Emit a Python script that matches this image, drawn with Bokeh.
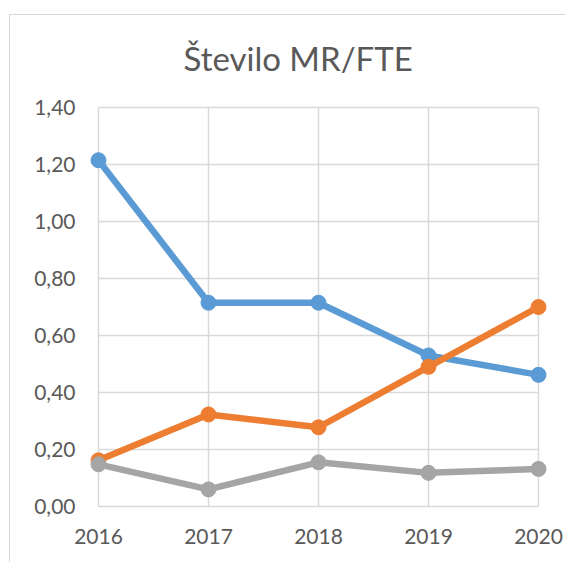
from bokeh.plotting import figure
from bokeh.models import Range1d, FixedTicker, CustomJSTickFormatter
from bokeh.embed import file_html
from bokeh.resources import INLINE

# ---- data ----
years = [2016, 2017, 2018, 2019, 2020]
series_blue = [1.215, 0.715, 0.715, 0.53, 0.462]
series_orange = [0.162, 0.323, 0.278, 0.49, 0.70]
series_gray = [0.148, 0.060, 0.155, 0.118, 0.132]
y_ticks = [0.0, 0.2, 0.4, 0.6, 0.8, 1.0, 1.2, 1.4]
title_text = "Število MR/FTE"

FONT = "Lato"
TXT = "#595959"
GRID = "#D9D9D9"

xpad = 10 / 110
ypad = 10 / 285
p = figure(width=556, height=548, output_backend="svg", toolbar_location=None,
           x_range=Range1d(years[0] - xpad, years[-1] + xpad),
           y_range=Range1d(y_ticks[0] - ypad, y_ticks[-1] + ypad),
           min_border_left=78, min_border_right=18, min_border_top=82, min_border_bottom=47,
           title=title_text)
p.styles = {"margin-left": "9px", "margin-top": "14px",
            "border-left": "1px solid #D9D9D9", "border-top": "1px solid #D9D9D9"}
p.outline_line_color = None
p.background_fill_color = "white"
p.border_fill_color = "white"
p.xgrid.visible = False
p.ygrid.visible = False

p.title.align = "left"
p.title.offset = 95
p.title.standoff = 40
p.title.text_font = FONT
p.title.text_font_size = "33px"
p.title.text_font_style = "normal"
p.title.text_color = TXT

# grid lines from tick lists
p.segment(x0=years, y0=[y_ticks[0]] * len(years), x1=years, y1=[y_ticks[-1]] * len(years),
          line_color=GRID, line_width=1.5)
p.segment(x0=[years[0]] * len(y_ticks), y0=y_ticks, x1=[years[-1]] * len(y_ticks), y1=y_ticks,
          line_color=GRID, line_width=1.5)

for vals, col in [(series_blue, "#5B9BD5"), (series_orange, "#ED7D31"), (series_gray, "#A5A5A5")]:
    p.line(years, vals, line_color=col, line_width=6.5)
    p.scatter(years, vals, size=15, fill_color=col, line_color=col)

for ax in (p.xaxis, p.yaxis):
    ax.axis_line_color = None
    ax.major_tick_line_color = None
    ax.minor_tick_line_color = None
    ax.major_tick_out = 0
    ax.major_tick_in = 0
    ax.minor_tick_out = 0
    ax.minor_tick_in = 0
    ax.major_label_text_font = FONT
    ax.major_label_text_font_size = "21px"
    ax.major_label_text_color = TXT

p.xaxis.ticker = FixedTicker(ticks=years)
p.xaxis.formatter = CustomJSTickFormatter(code="return tick.toFixed(0);")
p.xaxis.major_label_standoff = 12
p.yaxis.ticker = FixedTicker(ticks=y_ticks)
p.yaxis.formatter = CustomJSTickFormatter(code="return tick.toFixed(2).replace('.', ',');")
p.yaxis.major_label_standoff = 13

open("out.html", "w").write(file_html(p, INLINE))
